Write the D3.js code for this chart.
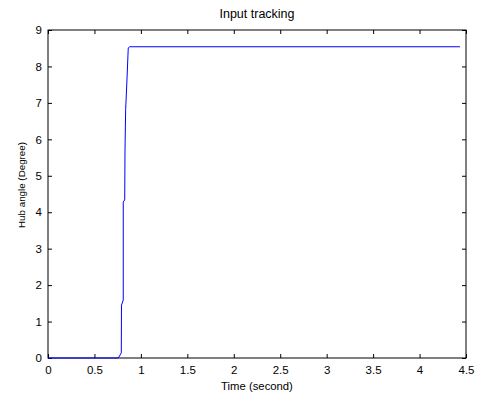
<!DOCTYPE html>
<html>
<head>
<meta charset="utf-8">
<script src="https://cdn.jsdelivr.net/npm/d3@7"></script>
<style>
  body { margin: 0; background: #fff; }
  text { font-family: "Liberation Sans", Arial, sans-serif; }
</style>
</head>
<body>
<div id="chart"></div>
<script>
// Data
const time = [0, 0.757, 0.789, 0.791, 0.81, 0.81, 0.826, 0.829, 0.836, 0.85, 0.864, 0.88, 4.435]
const angle = [0, 0, 0.14, 1.45, 1.59, 4.28, 4.34, 5.71, 6.81, 7.63, 8.51, 8.54, 8.54]
const xTicks = [0, 0.5, 1, 1.5, 2, 2.5, 3, 3.5, 4, 4.5]
const yTicks = [0, 1, 2, 3, 4, 5, 6, 7, 8, 9]

const dataset = time.map((t, i) => ({ t: t, a: angle[i] }))

// Dimension
let dimension = {
    width: 479,
    height: 396,
    margin: { top: 30, bottom: 38, left: 48, right: 13 }
}
dimension.ctrwidth = dimension.width - dimension.margin.left - dimension.margin.right
dimension.ctrheight = dimension.height - dimension.margin.top - dimension.margin.bottom

const svg = d3.select('#chart')
    .append('svg')
    .attr('width', dimension.width)
    .attr('height', dimension.height)

const ctr = svg.append('g')
    .attr('transform', `translate(${dimension.margin.left}, ${dimension.margin.top})`)

// Scales
const xScale = d3.scaleLinear().domain([0, 4.5]).range([0, dimension.ctrwidth])
const yScale = d3.scaleLinear().domain([0, 9]).range([dimension.ctrheight, 0])

// Axes (ticks inside, box on)
const styleAxis = (g) => {
    g.select('.domain').remove()
    g.selectAll('line').attr('stroke', '#000')
    g.selectAll('text').attr('fill', '#000').style('font-size', '11.5px')
}

ctr.append('g')
    .attr('transform', `translate(0, ${dimension.ctrheight})`)
    .call(d3.axisBottom(xScale).tickValues(xTicks).tickSizeInner(-4).tickSizeOuter(0).tickPadding(8).tickFormat(d3.format('')))
    .call(styleAxis)

ctr.append('g')
    .call(d3.axisTop(xScale).tickValues(xTicks).tickSizeInner(-4).tickSizeOuter(0).tickFormat(''))
    .call(styleAxis)

ctr.append('g')
    .call(d3.axisLeft(yScale).tickValues(yTicks).tickSizeInner(-4).tickSizeOuter(0).tickPadding(6))
    .call(styleAxis)

ctr.append('g')
    .attr('transform', `translate(${dimension.ctrwidth}, 0)`)
    .call(d3.axisRight(yScale).tickValues(yTicks).tickSizeInner(-4).tickSizeOuter(0).tickFormat(''))
    .call(styleAxis)

// Box
ctr.append('rect')
    .attr('x', 0).attr('y', 0)
    .attr('width', dimension.ctrwidth)
    .attr('height', dimension.ctrheight)
    .attr('fill', 'none')
    .attr('stroke', '#000')
    .attr('stroke-width', 1)

// Line
const line = d3.line()
    .x(d => xScale(d.t))
    .y(d => yScale(d.a))

ctr.append('path')
    .datum(dataset)
    .attr('d', line)
    .attr('fill', 'none')
    .attr('stroke', '#0000ff')
    .attr('stroke-width', 1)

// Labels
svg.append('text')
    .attr('x', dimension.margin.left + dimension.ctrwidth / 2)
    .attr('y', 18)
    .attr('text-anchor', 'middle')
    .style('font-size', '12.5px')
    .text('Input tracking')

svg.append('text')
    .attr('x', dimension.margin.left + dimension.ctrwidth / 2)
    .attr('y', 390)
    .attr('text-anchor', 'middle')
    .style('font-size', '11.3px')
    .text('Time (second)')

svg.append('text')
    .attr('transform', `translate(25, 185) rotate(-90)`)
    .attr('text-anchor', 'middle')
    .style('font-size', '9.8px')
    .text('Hub angle (Degree)')
</script>
</body>
</html>
